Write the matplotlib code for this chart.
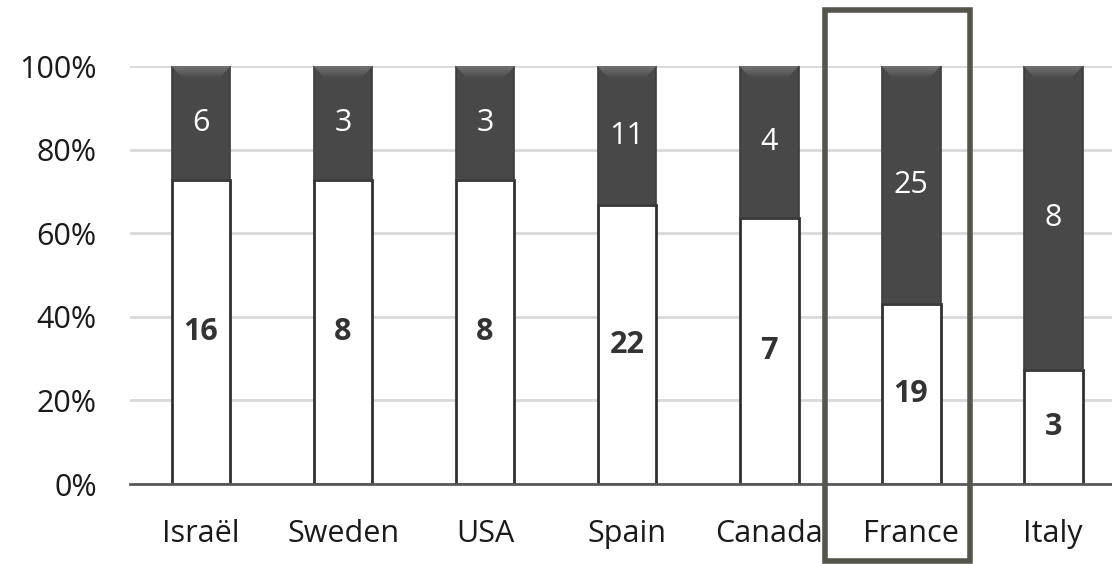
import numpy as np
import matplotlib
matplotlib.use("Agg")
import matplotlib.pyplot as plt
from matplotlib.patches import Polygon, Rectangle
from matplotlib.ticker import PercentFormatter
import matplotlib.transforms as mtransforms

plt.rcParams['font.family'] = ['Open Sans', 'DejaVu Sans']

countries = ["Israël", "Sweden", "USA", "Spain", "Canada", "France", "Italy"]
lower = np.array([16, 8, 8, 22, 7, 19, 3])     # white segment counts
upper = np.array([6, 3, 3, 11, 4, 25, 8])      # dark segment counts
highlight = "France"

total = lower + upper
low_frac = lower / total
up_frac = upper / total

fig = plt.figure(figsize=(11.12, 5.64), dpi=100)
ax = fig.add_axes([0.1169, 0.1418, 0.8831, 0.7411])

x = np.arange(len(countries))
width = 0.415
dark = "#484848"

bars_low = ax.bar(x, low_frac, width, color="white", edgecolor="#303030",
                  linewidth=2, zorder=3)
bars_up = ax.bar(x, up_frac, width, bottom=low_frac, color=dark,
                 edgecolor="#3c3c3c", linewidth=1.2, zorder=3)

# bevelled top on the dark segments
grad = np.linspace(0, 1, 64).reshape(-1, 1)
bev_cmap = matplotlib.colors.LinearSegmentedColormap.from_list(
    "bev", ["#737373", "#4a4a4a"])
bev_h = 0.028
for b in bars_up:
    x0, w = b.get_x(), b.get_width()
    top = b.get_y() + b.get_height()
    inset = 0.075
    poly = Polygon([[x0, top], [x0 + w, top], [x0 + w - inset, top - bev_h],
                    [x0 + inset, top - bev_h]], closed=True,
                   facecolor="none", edgecolor="none", zorder=4)
    ax.add_patch(poly)
    im = ax.imshow(grad, extent=[x0, x0 + w, top - bev_h, top], aspect="auto",
                   cmap=bev_cmap, origin="upper", zorder=4)
    im.set_clip_path(poly)

# value labels
for i in x:
    ax.text(i, low_frac[i] / 2, str(lower[i]), ha="center", va="center",
            fontsize=22, fontweight="bold", color="#333333", zorder=5)
    ax.text(i, low_frac[i] + up_frac[i] / 2, str(upper[i]), ha="center",
            va="center", fontsize=22, color="white", zorder=5)

ax.set_xlim(-0.5, 6.415)
ax.set_ylim(0, 1)
ax.set_yticks(np.arange(0, 1.01, 0.2))
ax.yaxis.set_major_formatter(PercentFormatter(1.0, decimals=0))
ax.set_xticks(x)
ax.set_xticklabels(countries)
ax.tick_params(axis="both", length=0, labelsize=22, colors="#1a1a1a")
ax.tick_params(axis="x", pad=25)
ax.tick_params(axis="y", pad=24)
ax.grid(axis="y", color="#d9d9d9", linewidth=2, zorder=0)
ax.set_axisbelow(True)
for side in ["top", "right", "left"]:
    ax.spines[side].set_visible(False)
ax.spines["bottom"].set_color("#595959")
ax.spines["bottom"].set_linewidth(2)
ax.spines["bottom"].set_zorder(4)

# frame around the highlighted country
hi = countries.index(highlight)
trans = mtransforms.blended_transform_factory(ax.transData, fig.transFigure)
frame = Rectangle((hi - 0.606, 0.006), 1.021, 0.976, transform=trans,
                  fill=False, edgecolor="#55554b", linewidth=4, clip_on=False,
                  zorder=6)
fig.add_artist(frame)

fig.savefig("out.png", dpi=100, facecolor="white")
